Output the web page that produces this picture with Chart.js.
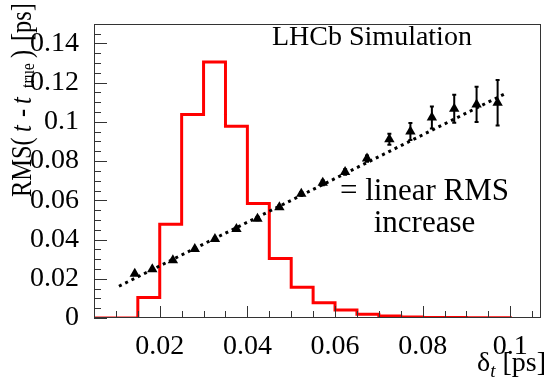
<!DOCTYPE html>
<html><head><meta charset="utf-8">
<script src="https://cdn.jsdelivr.net/npm/chart.js@4/dist/chart.umd.min.js"></script>
<style>html,body{margin:0;padding:0;background:#fff}</style>
</head><body>
<canvas id="c" width="548" height="378" style="display:block;width:548px;height:378px"></canvas>
<script>
// ---- data ----
const binEdges = [0.005,0.010,0.015,0.020,0.025,0.030,0.035,0.040,0.045,0.050,0.055,0.060,0.065,0.070,0.075,0.080,0.085,0.090,0.095,0.100];
const binValues = [0,0,0.0105,0.0478,0.1038,0.1305,0.0978,0.0584,0.0303,0.0157,0.0078,0.0041,0.0019,0.0010,0.0005,0.0003,0.0002,0.0001,0.0001];
const pointX = [0.0143,0.0183,0.0230,0.0280,0.0326,0.0375,0.0423,0.0473,0.0523,0.0572,0.0623,0.0673,0.0724,0.0772,0.0821,0.0872,0.0923,0.0971];
const pointY = [0.0225,0.0248,0.0295,0.0352,0.0403,0.0454,0.0506,0.0565,0.0633,0.0689,0.0744,0.0813,0.0911,0.0951,0.1022,0.1067,0.1089,0.1098];
const pointErr = [0.0005,0.0005,0.0005,0.0005,0.0006,0.0007,0.0008,0.0009,0.0010,0.0012,0.0014,0.0016,0.0028,0.0043,0.0056,0.0071,0.0090,0.0116];
const fitX = [0.0107,0.0993];
const fitY = [0.0162,0.1149];
const xTickValues = [0.02,0.04,0.06,0.08,0.1];
const xTickLabels = ['0.02','0.04','0.06','0.08','0.1'];
const yTickValues = [0,0.02,0.04,0.06,0.08,0.1,0.12,0.14];
const yTickLabels = ['0','0.02','0.04','0.06','0.08','0.1','0.12','0.14'];
const xRange = [0.005,0.107];
const yRange = [0,0.15];

const SERIF = '"Liberation Serif", "DejaVu Serif", serif';

const histData = binValues.map((v,i)=>({x:binEdges[i], y:v}));
histData.push({x:binEdges[binEdges.length-1], y:0});
const fitData = fitX.map((x,i)=>({x:x, y:fitY[i]}));
const ptData = pointX.map((x,i)=>({x:x, y:pointY[i]}));

const decorPlugin = {
  id:'decor',
  afterDatasetsDraw(chart){
    const ctx = chart.ctx, xs = chart.scales.x, ys = chart.scales.y;
    ctx.save();
    ctx.strokeStyle = '#000'; ctx.lineWidth = 2;
    pointX.forEach((x,i)=>{
      const px = xs.getPixelForValue(x);
      const y1 = ys.getPixelForValue(pointY[i]-pointErr[i]);
      const y2 = ys.getPixelForValue(pointY[i]+pointErr[i]);
      ctx.beginPath();
      ctx.moveTo(px,y1); ctx.lineTo(px,y2);
      ctx.moveTo(px-2,y1); ctx.lineTo(px+2,y1);
      ctx.moveTo(px-2,y2); ctx.lineTo(px+2,y2);
      ctx.stroke();
    });
    ctx.restore();
  },
  afterDraw(chart){
    const ctx = chart.ctx, xs = chart.scales.x, ys = chart.scales.y, a = chart.chartArea;
    ctx.save();
    ctx.strokeStyle = '#333'; ctx.lineWidth = 1;
    ctx.strokeRect(Math.round(a.left)+0.5, Math.round(a.top)+0.5, Math.round(a.right-a.left)-1, Math.round(a.bottom-a.top)-1);
    ctx.beginPath();
    for (let k=0;k<=30;k++){
      const v = k*0.005;
      const py = Math.round(ys.getPixelForValue(v))+0.5;
      const major = (k%4===0);
      ctx.moveTo(a.left, py); ctx.lineTo(a.left + (major?13:7), py);
    }
    for (let k=1;k<=21;k++){
      const v = k*0.005;
      if (v < xRange[0]-1e-9 || v > xRange[1]) continue;
      const px = Math.round(xs.getPixelForValue(v))+0.5;
      const major = (k%4===0);
      ctx.moveTo(px, a.bottom); ctx.lineTo(px, a.bottom - (major?12:7));
    }
    ctx.stroke();

    ctx.fillStyle = '#000';
    ctx.font = '28px ' + SERIF;
    ctx.textAlign = 'left'; ctx.textBaseline = 'alphabetic';
    ctx.fillText('LHCb Simulation', 272, 45);
    ctx.font = '31px ' + SERIF;
    ctx.textAlign = 'center';
    ctx.fillText('= linear RMS', 424.5, 200);
    ctx.fillText('increase', 424.5, 232);

    // x title: δ_t [ps]
    ctx.textAlign = 'left';
    const fMain = '28px ' + SERIF, fSub = 'italic 19px ' + SERIF;
    ctx.font = fMain; const w1 = ctx.measureText('\u03b4').width; const w3 = ctx.measureText(' [ps]').width;
    ctx.font = fSub; const w2 = ctx.measureText('t').width;
    let x0 = 546 - (w1+w2+w3), base = 371;
    ctx.font = fMain; ctx.fillText('\u03b4', x0, base);
    ctx.font = fSub; ctx.fillText('t', x0+w1, base+6);
    ctx.font = fMain; ctx.fillText(' [ps]', x0+w1+w2, base);

    // y title: RMS( t-t_true ) [ps]  (rotated, reads bottom to top)
    ctx.translate(31, 197);
    ctx.rotate(-Math.PI/2);
    const sx = 0.84;
    const yParts = [
      ['RMS(', '29px ' + SERIF, 0, 0],
      ['t', 'italic 29px ' + SERIF, 65, 0],
      ['-', '29px ' + SERIF, 80, 0],
      ['t', 'italic 29px ' + SERIF, 93, 0],
      ['true', '19px ' + SERIF, 109, 3],
      [')', '29px ' + SERIF, 139, 0],
      ['[ps]', '29px ' + SERIF, 156, 0]
    ];
    ctx.scale(sx, 1);
    yParts.forEach(p=>{ ctx.font = p[1]; ctx.fillText(p[0], p[2]/sx, p[3]); });
    ctx.restore();
  }
};

new Chart(document.getElementById('c'), {
  type:'scatter',
  data:{ datasets:[
    { type:'scatter', data: ptData, pointStyle:'triangle', pointRadius:6, pointHoverRadius:6,
      backgroundColor:'#000', borderColor:'#000', borderWidth:0, order:1 },
    { type:'line', data: fitData, borderColor:'#000', borderWidth:3, borderDash:[3,4], pointRadius:0, fill:false, order:2 },
    { type:'line', data: histData, stepped:true, borderColor:'#ff0000', borderWidth:3, pointRadius:0, fill:false, order:3 }
  ]},
  options:{
    responsive:false, animation:false, devicePixelRatio:1,
    layout:{ padding:{ left:0, top:3, right:7, bottom:0 } },
    plugins:{ legend:{display:false}, tooltip:{enabled:false} },
    scales:{
      x:{ type:'linear', min:xRange[0], max:xRange[1],
          grid:{display:false}, border:{display:false},
          afterBuildTicks:(s)=>{ s.ticks = xTickValues.map(v=>({value:v})); },
          afterFit:(s)=>{ s.height = 60; },
          ticks:{ color:'#000', font:{family:SERIF, size:28}, padding:4, maxRotation:0, autoSkip:false,
                  callback:(v,i)=>xTickLabels[i] } },
      y:{ type:'linear', min:yRange[0], max:yRange[1],
          grid:{display:false}, border:{display:false},
          afterBuildTicks:(s)=>{ s.ticks = yTickValues.map(v=>({value:v})); },
          afterFit:(s)=>{ s.width = 94; },
          ticks:{ color:'#000', font:{family:SERIF, size:28}, padding:7, autoSkip:false,
                  callback:(v,i)=>yTickLabels[i] } }
    }
  },
  plugins:[decorPlugin]
});
</script>
</body></html>
